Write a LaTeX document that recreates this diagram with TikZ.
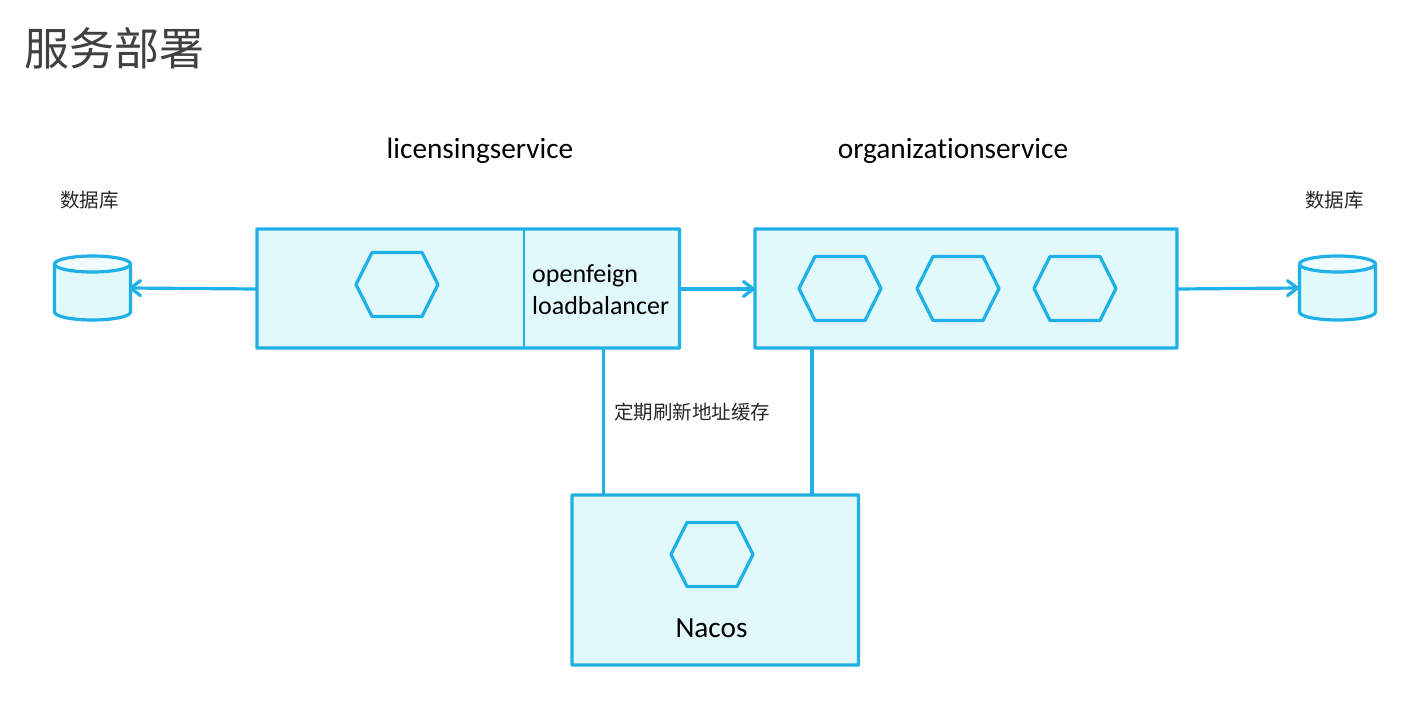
\documentclass[tikz,border=0pt]{standalone}
\usepackage{fontspec}
\setmainfont{Carlito}[Ligatures=NoCommon]
\newfontfamily\cjk{Noto Sans CJK SC}[Scale=1]
\definecolor{edgeblue}{HTML}{1FB0E8}
\definecolor{paleblue}{HTML}{E2F9FC}
\definecolor{titlegray}{HTML}{404040}
\usetikzlibrary{arrows.meta}
\tikzset{
  boxnode/.style={draw=edgeblue,fill=paleblue,line width=3.2pt,rectangle,inner sep=0pt,outer sep=0pt,rounded corners=0.5pt},
  shapeline/.style={draw=edgeblue,fill=paleblue,line width=3.2pt,line join=round},
  link/.style={draw=edgeblue,line width=3.2pt},
  arrowlink/.style={link,-{Straight Barb[length=10pt,width=15pt,line width=3.2pt,round]}},
  latin/.style={font=\fontsize{26}{30}\selectfont,text=black,inner sep=0pt},
  latinbig/.style={font=\fontsize{29.3}{32}\selectfont,text=black,inner sep=0pt},
  cjksmall/.style={font=\cjk\fontsize{19.5}{22}\selectfont,text=black!85,inner sep=0pt}
}
\newcommand{\hexat}[3]{%
  \draw[shapeline] (#1-41,#2) coordinate (#3) -- (#1-25,#2-32) -- (#1+25,#2-32) -- (#1+41,#2) -- (#1+25,#2+32) -- (#1-25,#2+32) -- cycle;}
\newcommand{\cylat}[2]{%
  \draw[shapeline] (#1-38,264) -- (#1-38,312) arc[start angle=180,end angle=0,x radius=38,y radius=8] -- (#1+38,264);
  \draw[shapeline,fill=paleblue!50!white] (#1,264) ellipse[x radius=38,y radius=8];
  \coordinate (#2) at (#1,288);}
\begin{document}
\begin{tikzpicture}[x=1pt,y=-1pt]
\useasboundingbox (0,0) rectangle (1424,720);
\node[anchor=west,inner sep=0pt,text=titlegray,font=\cjk\fontsize{45}{50}\selectfont] (title) at (24,48) {服务部署};
\node[latinbig] (lictitle) at (480,151) {licensingservice};
\node[latinbig] (orgtitle) at (953,151) {organizationservice};
\node[cjksmall] (dbl) at (89.5,200.5) {数据库};
\node[cjksmall] (dbr) at (1334.5,200.5) {数据库};
% boxes
\node[boxnode,minimum width=422.5pt,minimum height=119pt] (lic) at (468.25,288.5) {};
\node[boxnode,minimum width=422pt,minimum height=119pt] (org) at (966,288.5) {};
\node[boxnode,minimum width=286.5pt,minimum height=170pt] (nacos) at (715.25,580) {};
\draw[edgeblue,line width=2pt] (523.5,229) coordinate (da) -- (523.5,348);
% hexagons
\hexat{397}{284.5}{h1}
\hexat{840}{288.5}{h2}
\hexat{958}{288.5}{h3}
\hexat{1075}{288.5}{h4}
\hexat{712}{554.5}{h5}
% cylinders
\cylat{92.5}{cl}
\cylat{1337.5}{cr}
% texts in boxes
\node[latin,anchor=west] (of) at (532,275.5) {openfeign};
\node[latin,anchor=west] (lb) at (532,305.5) {loadbalancer};
\node[latinbig] (nac) at (711.5,628) {Nacos};
\node[cjksmall,anchor=west] (refresh) at (614,412.5) {定期刷新地址缓存};
% connectors
\coordinate (a1) at (257,289);
\coordinate (a1e) at (129,288);
\draw[arrowlink] (a1) -- (a1e);
\coordinate (a2) at (680,289);
\coordinate (a2e) at (755,289);
\draw[arrowlink] (a2) -- (a2e);
\coordinate (a3) at (1177,289);
\coordinate (a3e) at (1299,288);
\draw[arrowlink] (a3) -- (a3e);
\draw[link] (lic.south -| 603.5,0) -- (nacos.north -| 603.5,0);
\draw[link] (org.south -| 812,0) -- (nacos.north -| 812,0);
\end{tikzpicture}
\end{document}
